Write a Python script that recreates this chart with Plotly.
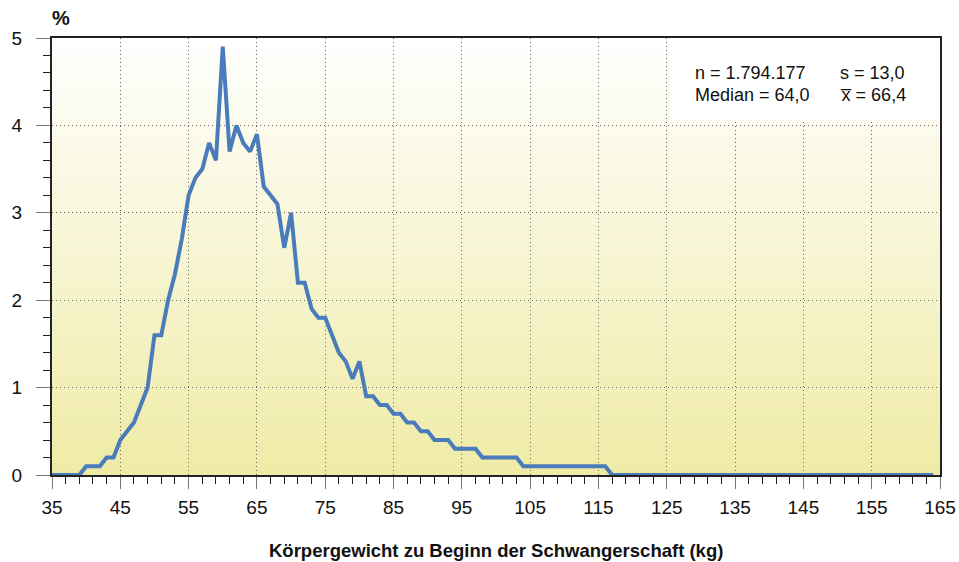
import plotly.graph_objects as go

# ---- data ----
weight_kg = list(range(35, 165))
percent = (
    [0, 0, 0, 0, 0,            # 35-39
     0.1, 0.1, 0.1, 0.2, 0.2,  # 40-44
     0.4, 0.5, 0.6, 0.8, 1.0,  # 45-49
     1.6, 1.6, 2.0, 2.3, 2.7,  # 50-54
     3.2, 3.4, 3.5, 3.8, 3.6,  # 55-59
     4.9, 3.7, 4.0, 3.8, 3.7,  # 60-64
     3.9, 3.3, 3.2, 3.1, 2.6,  # 65-69
     3.0, 2.2, 2.2, 1.9, 1.8,  # 70-74
     1.8, 1.6, 1.4, 1.3, 1.1,  # 75-79
     1.3, 0.9, 0.9, 0.8, 0.8,  # 80-84
     0.7, 0.7, 0.6, 0.6, 0.5,  # 85-89
     0.5, 0.4, 0.4, 0.4, 0.3,  # 90-94
     0.3, 0.3, 0.3, 0.2, 0.2,  # 95-99
     0.2, 0.2, 0.2, 0.2, 0.1]  # 100-104
    + [0.1] * 12               # 105-116
    + [0] * 48                 # 117-164
)
x_ticks = list(range(35, 166, 10))
y_ticks = [0, 1, 2, 3, 4, 5]
stats_left = ["n = 1.794.177", "Median = 64,0"]
stats_right = ["s = 13,0", "x\u0305 = 66,4"]
x_title = "Körpergewicht zu Beginn der Schwangerschaft (kg)"
y_title = "%"

X0, X1, Y0, Y1 = 35, 165, 0, 5
FONT = "Liberation Sans, Arial, sans-serif"
W, H = 959, 562
ML, MR, MT, MB = 52, 19, 38, 87
PW, PH = W - ML - MR, H - MT - MB


def px_to_paper(px, py):
    return (px - ML) / PW, (H - MB - py) / PH


fig = go.Figure()

fig.add_trace(go.Scatter(
    x=weight_kg, y=percent, mode="lines",
    line=dict(color="#4a7bba", width=4),
    hoverinfo="x+y", showlegend=False,
))

# gradient background via stacked bands below gridlines
shapes = []
N = 120
top = (255, 255, 255)
bot = (239, 235, 166)
for i in range(N):
    t = (i + 0.5) / N
    c = tuple(round(bot[k] + (top[k] - bot[k]) * t) for k in range(3))
    shapes.append(dict(
        type="rect", xref="x", yref="y", layer="below",
        x0=X0, x1=X1, y0=Y0 + (Y1 - Y0) * i / N, y1=Y0 + (Y1 - Y0) * (i + 1) / N + 0.01,
        fillcolor="rgb(%d,%d,%d)" % c, line=dict(width=0),
    ))
# stats box
shapes.append(dict(
    type="rect", xref="x", yref="y", layer="between",
    x0=125.6, x1=X1, y0=4.06, y1=Y1,
    fillcolor="white", line=dict(width=0),
))

annotations = []
for i, (a, b) in enumerate(zip(stats_left, stats_right)):
    yy = 4.6 - i * 0.25
    annotations.append(dict(x=128.8, y=yy, xref="x", yref="y", text=a, showarrow=False,
                            xanchor="left", yanchor="middle",
                            font=dict(family=FONT, size=18, color="#111")))
    annotations.append(dict(x=150.1, y=yy, xref="x", yref="y", text=b, showarrow=False,
                            xanchor="left", yanchor="middle",
                            font=dict(family=FONT, size=18, color="#111")))
px_, py_ = px_to_paper(61, 18)
annotations.append(dict(x=px_, y=py_, xref="paper", yref="paper", text="<b>" + y_title + "</b>",
                        showarrow=False, xanchor="center", yanchor="middle",
                        font=dict(family=FONT, size=20, color="#111")))
px_, py_ = px_to_paper(495.5, 550)
annotations.append(dict(x=px_, y=py_, xref="paper", yref="paper",
                        text="<b>" + x_title + "</b>", showarrow=False,
                        xanchor="center", yanchor="middle",
                        font=dict(family=FONT, size=18.5, color="#111")))

fig.update_layout(
    width=W, height=H,
    margin=dict(l=ML, r=MR, t=MT, b=MB, autoexpand=False),
    paper_bgcolor="white", plot_bgcolor="white",
    font=dict(family=FONT, size=19, color="#111"),
    shapes=shapes, annotations=annotations,
    showlegend=False,
)
common = dict(
    ticks="outside", tickwidth=1, tickcolor="#777",
    showline=True, linecolor="#222", linewidth=2, mirror=True,
    showgrid=True, gridcolor="#666", griddash="1px,3px", gridwidth=1,
    zeroline=False, fixedrange=True, automargin=False,
)
fig.update_xaxes(
    range=[X0, X1], tickvals=x_ticks, ticklen=12, ticklabelstandoff=2,
    minor=dict(ticks="outside", dtick=2, tick0=35, ticklen=7, tickcolor="#222", showgrid=False),
    **common,
)
fig.update_yaxes(
    range=[Y0, Y1], tickvals=y_ticks, ticklen=14, ticklabelstandoff=10,
    minor=dict(ticks="outside", dtick=0.2, tick0=0, ticklen=7, tickcolor="#222", showgrid=False),
    **common,
)

fig.write_html(
    "out.html",
    config={"displayModeBar": False},
    post_script="document.body.style.margin='0';document.body.style.overflow='hidden';",
)
